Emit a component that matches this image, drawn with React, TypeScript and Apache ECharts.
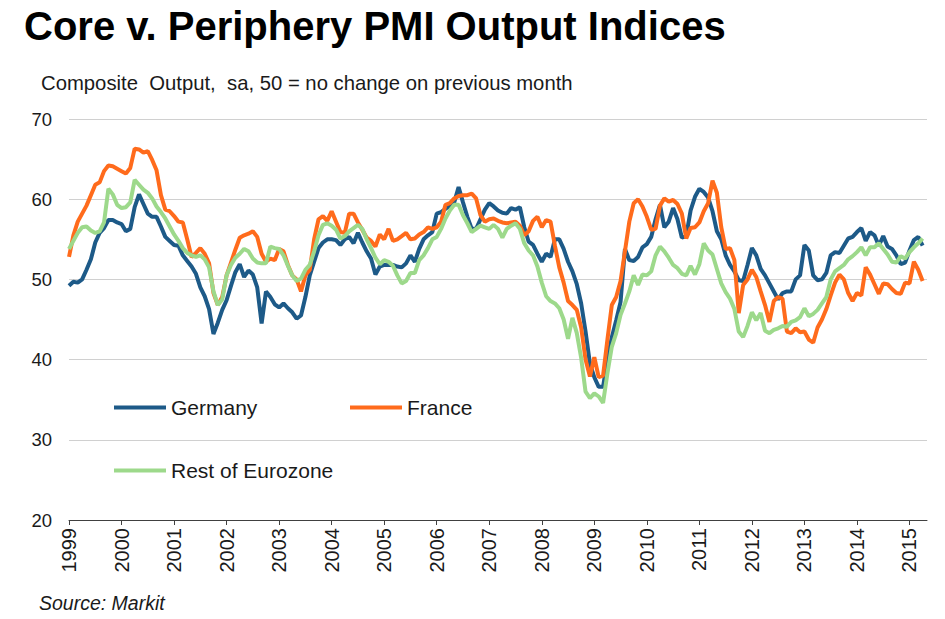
import React, { useEffect, useRef } from "react";
import * as echarts from "echarts";

// Tick labels (years) on the x axis
const years = [
  "1999", "2000", "2001", "2002", "2003", "2004", "2005", "2006",
  "2007", "2008", "2009", "2010", "2011", "2012", "2013", "2014", "2015",
];

// Monthly composite output indices, Jan 1999 – Apr 2015
const germany = [
  49.2, 49.7, 49.6, 50.0, 51.2, 52.5, 54.6, 55.8, 56.4, 57.4, 57.4, 57.1,
  56.9, 56.0, 56.3, 59.0, 60.6, 59.4, 58.2, 57.8, 57.8, 56.6, 55.3, 54.8,
  54.3, 54.2, 53.0, 52.3, 51.6, 50.7, 49.0, 47.9, 46.3, 43.2, 44.6, 46.2,
  47.4, 49.2, 50.9, 51.9, 50.3, 51.1, 50.6, 49.0, 44.5, 48.5, 47.8, 46.9,
  46.5, 47.0, 46.4, 45.9, 45.1, 45.5, 47.8, 50.5, 52.2, 53.9, 54.6, 55.0,
  55.0, 54.9, 54.3, 55.0, 55.3, 54.5, 55.8, 54.6, 53.5, 52.6, 50.6, 51.6,
  51.8, 51.8, 51.8, 51.6, 51.5, 52.0, 53.0, 52.2, 53.8, 55.0, 55.5, 55.9,
  58.2, 58.4, 58.8, 59.2, 59.6, 61.5, 59.6, 57.8, 56.3, 56.3, 57.5, 58.7,
  59.5, 59.1, 58.6, 58.3, 58.2, 58.9, 58.7, 59.0, 56.5, 54.7, 54.3, 53.2,
  52.2, 53.2, 52.8, 55.0, 55.0, 53.8, 52.2, 51.0, 49.4, 47.0, 43.5, 39.5,
  37.8, 36.6, 36.6, 40.0, 42.8, 44.9, 47.2, 53.8, 52.4, 52.3, 52.8, 54.0,
  54.4, 55.3, 57.5, 59.3, 56.5, 57.2, 58.9, 57.5, 55.2, 55.4, 58.6, 60.3,
  61.3, 60.9, 60.2, 58.5, 56.0, 55.0, 53.0, 51.8, 51.0, 49.9, 49.8, 51.8,
  53.9, 53.0, 51.3, 50.5, 49.5, 48.5, 47.5, 48.3, 48.5, 48.5, 50.0, 50.5,
  54.3, 53.6, 50.5, 49.9, 50.0, 50.8, 53.0, 53.4, 53.3, 54.2, 55.1, 55.3,
  55.9, 56.4, 54.8, 55.9, 55.5, 54.2, 55.4, 54.1, 53.8, 53.0, 51.9, 52.1,
  53.6, 54.9, 55.3, 54.2,
];

const france = [
  52.8, 55.5, 57.2, 58.2, 59.2, 60.5, 61.8, 62.1, 63.5, 64.2, 64.1, 63.8,
  63.5, 63.2, 63.9, 66.3, 66.2, 65.8, 66.0, 64.9, 63.6, 60.5, 58.7, 58.5,
  57.9, 57.2, 57.1, 55.0, 52.8, 53.3, 53.9, 53.2, 52.0, 48.3, 46.8, 47.8,
  50.5, 52.1, 53.7, 55.2, 55.5, 55.7, 56.0, 55.3, 53.2, 52.2, 52.6, 52.4,
  53.8, 53.5, 51.8, 50.5, 50.0, 48.5, 50.5, 51.2, 55.0, 57.5, 57.9, 57.3,
  58.5, 57.2, 55.9, 55.8, 58.2, 58.2, 57.1, 56.2, 55.2, 54.8, 54.1, 55.6,
  55.0, 56.3, 54.8, 55.0, 55.4, 55.8, 55.0, 55.1, 55.6, 55.9, 56.5, 56.3,
  56.5, 57.2, 59.3, 59.5, 60.1, 60.4, 60.5, 60.5, 60.7, 60.1, 58.0, 57.2,
  57.5, 57.6, 57.3, 57.1, 57.0, 57.1, 57.2, 56.7, 55.5, 56.0, 57.3, 57.8,
  56.5, 57.4, 57.2, 54.2, 51.5, 49.6, 47.3, 46.8, 46.2, 44.0, 40.0, 37.9,
  40.3, 37.8, 38.0, 42.5, 46.8, 47.8, 49.8, 53.5, 57.2, 59.5, 60.0, 59.1,
  57.8, 56.2, 56.3, 59.2, 60.1, 59.7, 59.9, 59.4, 58.2, 55.1, 56.4, 56.5,
  57.1, 58.5, 59.5, 62.3, 60.8, 56.5, 53.8, 53.9, 52.4, 45.8, 49.3, 50.0,
  51.2, 50.3, 48.5, 46.8, 44.7, 47.3, 47.8, 47.6, 43.5, 43.3, 43.9, 43.4,
  43.5, 42.5, 42.1, 44.0, 45.0, 46.3, 48.0, 49.6, 50.6, 50.0, 48.3, 47.3,
  48.3, 48.0, 51.5, 50.6, 49.4, 48.2, 49.5, 49.4, 48.8, 48.3, 48.2, 49.6,
  49.5, 52.2, 51.2, 49.8,
];

const restOfEurozone = [
  53.8, 54.8, 55.8, 56.5, 56.6, 56.1, 55.8, 56.0, 57.1, 61.3, 60.6, 59.3,
  58.9, 59.0, 59.6, 62.4, 61.8, 61.2, 60.8, 60.1, 59.1, 58.4, 57.6, 56.6,
  55.6, 54.8, 53.9, 53.3, 53.0, 52.8, 53.0, 52.5, 51.5, 48.5, 46.8, 47.5,
  50.5, 51.8, 52.7, 53.2, 53.8, 53.5, 52.6, 52.1, 52.0, 52.0, 54.1, 53.9,
  53.8, 53.0, 51.7, 50.5, 49.8, 50.1, 51.2, 51.8, 53.5, 55.5, 56.8, 57.0,
  56.7, 56.2, 55.1, 55.4, 56.0, 56.4, 56.8, 56.3, 55.0, 53.9, 52.7, 51.9,
  52.4, 52.2, 51.7, 50.5, 49.5, 49.8, 50.8, 50.8, 52.4, 53.0, 53.9, 55.0,
  55.3, 56.3, 57.6, 58.6, 59.3, 59.3, 58.0, 57.0, 55.9, 56.3, 56.7, 56.5,
  56.3, 56.8, 56.3, 55.2, 56.3, 56.7, 57.0, 56.3, 54.5, 53.6, 53.0, 51.6,
  49.6, 47.9, 47.3, 47.0, 46.4, 45.0, 42.6, 45.2, 43.3, 40.2, 36.0, 35.2,
  35.8, 35.4, 34.6, 38.3, 41.6, 43.3, 45.6, 47.0, 48.5, 50.5, 49.3, 50.6,
  50.5, 51.0, 53.0, 54.1, 53.5, 52.7, 51.8, 51.4, 50.7, 50.5, 51.7, 50.6,
  51.9, 54.5, 53.6, 53.1, 51.3, 49.5, 48.4, 47.6, 46.3, 43.5, 42.8, 44.2,
  45.9, 44.9, 45.8, 43.6, 43.3, 43.7, 43.9, 44.2, 44.1, 44.7, 44.9, 45.3,
  46.4, 45.4, 45.7, 46.2, 47.0, 47.8, 50.0, 51.0, 51.4, 51.8, 52.5, 52.9,
  53.4, 54.0, 53.0, 54.0, 54.0, 54.5, 53.8, 53.1, 52.2, 52.1, 52.9, 52.6,
  53.4, 54.0, 54.5, 55.1,
];

const COLORS = {
  germany: "#1d5a88",
  france: "#ff6b1c",
  rest: "#9dd98b",
};

const FONT = "'Liberation Sans', Arial, Helvetica, sans-serif";

export default function App() {
  const ref = useRef<HTMLDivElement>(null);

  useEffect(() => {
    if (!ref.current) return;
    const chart = echarts.init(ref.current, null, { renderer: "svg" });

    // One category per month, plus one trailing month so the axis runs past the last point
    const months: string[] = [];
    const startYear = Number(years[0]);
    const total = germany.length + 1;
    for (let i = 0; i < total; i++) {
      const y = startYear + Math.floor(i / 12);
      const m = (i % 12) + 1;
      months.push(`${y}-${m < 10 ? "0" + m : m}`);
    }
    const isYearStart = (index: number) => index % 12 === 0;

    const legendBase = {
      orient: "horizontal" as const,
      icon: "rect",
      itemWidth: 52,
      itemHeight: 4,
      padding: 0,
      textStyle: { fontSize: 21, color: "#1a1a1a", fontFamily: FONT },
      selectedMode: false,
    };

    chart.setOption({
      animation: false,
      backgroundColor: "#ffffff",
      title: [
        {
          text: "Core v. Periphery PMI Output Indices",
          left: 19,
          top: 1,
          textStyle: {
            fontSize: 40,
            fontWeight: "bold",
            color: "#000000",
            fontFamily: FONT,
          },
        },
        {
          text: "Composite  Output,  sa, 50 = no change on previous month",
          left: 36,
          top: 68,
          textStyle: {
            fontSize: 20.3,
            fontWeight: "normal",
            color: "#1a1a1a",
            fontFamily: FONT,
          },
        },
        {
          text: "Source: Markit",
          left: 34,
          top: 588,
          textStyle: {
            fontSize: 19.5,
            fontWeight: "normal",
            fontStyle: "italic",
            color: "#1a1a1a",
            fontFamily: FONT,
          },
        },
      ],
      legend: [
        { ...legendBase, data: ["Germany"], left: 114, top: 397 },
        { ...legendBase, data: ["France"], left: 350, top: 397 },
        { ...legendBase, data: ["Rest of Eurozone"], left: 114, top: 460 },
      ],
      grid: { left: 69, right: 18, top: 119, bottom: 99, containLabel: false },
      xAxis: {
        type: "category",
        data: months,
        boundaryGap: false,
        axisLine: { show: true, lineStyle: { color: "#404040", width: 1 } },
        axisTick: {
          show: true,
          interval: (index: number) => isYearStart(index),
          length: 5,
          lineStyle: { color: "#404040" },
        },
        axisLabel: {
          interval: (index: number) => isYearStart(index),
          rotate: 90,
          margin: 8,
          fontSize: 20,
          color: "#1a1a1a",
          fontFamily: FONT,
          formatter: (v: string) => v.slice(0, 4),
        },
        splitLine: { show: false },
      },
      yAxis: {
        type: "value",
        min: 20,
        max: 70,
        interval: 10,
        axisLine: { show: false },
        axisTick: { show: false },
        axisLabel: {
          margin: 17,
          fontSize: 18.5,
          color: "#1a1a1a",
          fontFamily: FONT,
        },
        splitLine: { show: true, lineStyle: { color: "#d0d0d0", width: 1 } },
      },
      series: [
        {
          name: "Germany",
          type: "line",
          data: germany,
          symbol: "none",
          lineStyle: { color: COLORS.germany, width: 4 },
          itemStyle: { color: COLORS.germany },
        },
        {
          name: "France",
          type: "line",
          data: france,
          symbol: "none",
          lineStyle: { color: COLORS.france, width: 4 },
          itemStyle: { color: COLORS.france },
        },
        {
          name: "Rest of Eurozone",
          type: "line",
          data: restOfEurozone,
          symbol: "none",
          lineStyle: { color: COLORS.rest, width: 4 },
          itemStyle: { color: COLORS.rest },
        },
      ],
    });

    return () => {
      chart.dispose();
    };
  }, []);

  return (
    <div
      ref={ref}
      style={{ position: "fixed", left: 0, top: 0, width: 945, height: 619 }}
    />
  );
}
